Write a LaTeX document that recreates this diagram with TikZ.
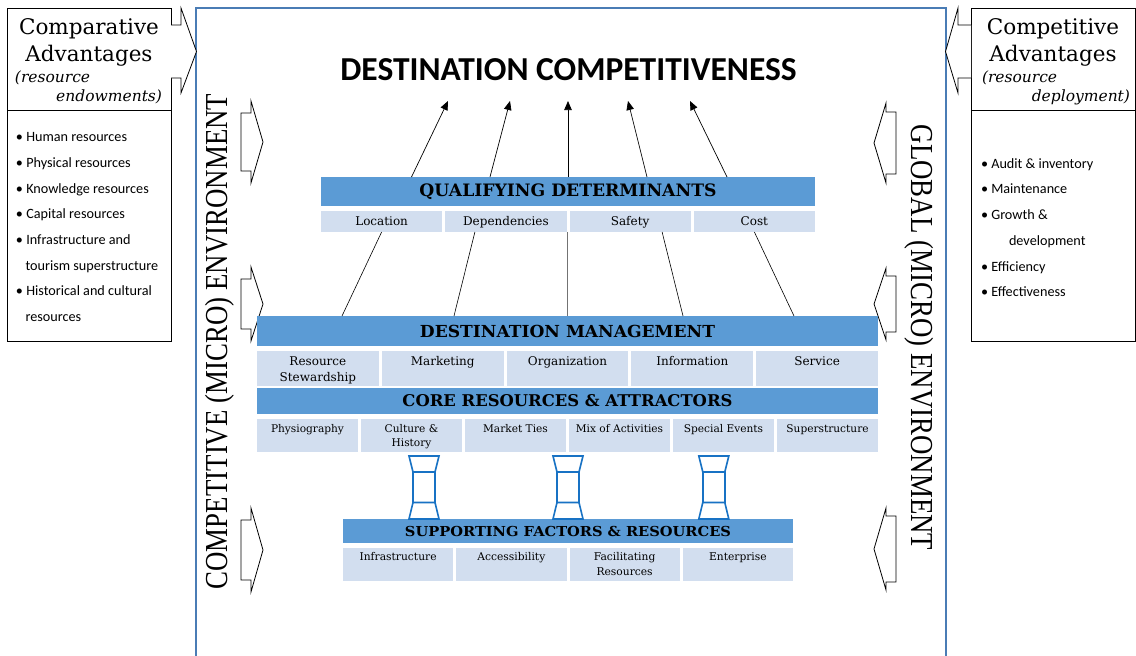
\documentclass[tikz,border=0pt]{standalone}
\usepackage{fontspec}
\setmainfont{DejaVu Serif}
\newfontfamily\carl{Carlito}
\newfontfamily\tnr{Liberation Serif}
\usetikzlibrary{arrows.meta,calc}
\definecolor{barblue}{HTML}{5B9BD5}
\definecolor{cellblue}{HTML}{D2DEEF}
\definecolor{framec}{HTML}{4A7CB5}
\definecolor{pillarc}{HTML}{1872C4}
\newcommand{\fs}[1]{\fontsize{#1}{#1}\selectfont}
\newcommand{\fsl}[2]{\fontsize{#1}{#2}\selectfont}
\newcommand{\cellbase}{14pt}
\newcommand{\cellnode}[6]{\node[cellbox, anchor=north] (#1) at (#2,#3) {\parbox[c][#5pt][t]{#4pt}{\centering\rule{0pt}{\cellbase}#6}};}
\newcommand{\pillar}[1]{%
 \draw[pil] (#1-15,456) -- (#1+15,456) -- (#1+11,472) -- (#1-11,472) -- cycle;
 \draw[pil] (#1-11,472) rectangle (#1+11,502.5);
 \draw[pil] (#1-11,502.5) -- (#1+11,502.5) -- (#1+15,519) -- (#1-15,519) -- cycle;}
\begin{document}
\begin{tikzpicture}[x=1pt,y=-1pt,
  txt/.style={inner sep=0pt, outer sep=0pt},
  bar/.style={fill=barblue, inner sep=0pt, outer sep=0pt, font=\bfseries},
  cellbox/.style={fill=cellblue, inner sep=0pt, outer sep=0pt},
  box/.style={draw=black, line width=0.9pt},
  blk/.style={draw=black, line width=0.8pt, fill=white, line join=miter},
  pil/.style={draw=pillarc, line width=1.6pt, line join=miter},
  conn/.style={line width=0.6pt},
  arr/.style={line width=0.7pt, -{Triangle[length=9pt,width=7.5pt]}},
  bul/.style={inner sep=0pt, outer sep=0pt, anchor=base west, font=\carl\fs{14.2}}]
\useasboundingbox (0,0) rectangle (1136,656);
\fill[white] (0,0) rectangle (1136,656);

% main frame
\draw[framec, line width=1.3pt] (196,660) -- (196,8) -- (946,8) -- (946,660);

% left advantage boxes
\draw[box] (7,8) rectangle (171,110);
\draw[box] (7,110) rectangle (171,341);
\node[txt, anchor=base] (ca1) at (89,34.5) {\fs{21.5}Comparative};
\node[txt, anchor=base] (ca2) at (89,61) {\fs{21.5}Advantages};
\node[txt, anchor=base west] (ca3) at (15,82.5) {\itshape\fs{15.5}(resource};
\node[txt, anchor=base east] (ca4) at (162,101) {\itshape\fs{15.5}endowments)};

% right advantage boxes
\draw[box] (971,8) rectangle (1135,110);
\draw[box] (971,110) rectangle (1135,341);
\node[txt, anchor=base] (cb1) at (1053,34.5) {\fs{21.5}Competitive};
\node[txt, anchor=base] (cb2) at (1053,61) {\fs{21.5}Advantages};
\node[txt, anchor=base west] (cb3) at (982,82.5) {\itshape\fs{15.5}(resource};
\node[txt, anchor=base east] (cb4) at (1130,101) {\itshape\fs{15.5}deployment)};

% bullet lists
\node[bul] (l1) at (16,141.7) {\textbullet\ Human resources};
\node[bul] (l2) at (16,167.4) {\textbullet\ Physical resources};
\node[bul] (l3) at (16,193.1) {\textbullet\ Knowledge resources};
\node[bul] (l4) at (16,218.8) {\textbullet\ Capital resources};
\node[bul] (l5) at (16,244.5) {\textbullet\ Infrastructure and};
\node[bul] (l6) at (25.5,270.2) {tourism superstructure};
\node[bul] (l7) at (16,295.9) {\textbullet\ Historical and cultural};
\node[bul] (l8) at (25.5,321.6) {resources};

\node[bul] (r1) at (981,168.2) {\textbullet\ Audit \& inventory};
\node[bul] (r2) at (981,193.9) {\textbullet\ Maintenance};
\node[bul] (r3) at (981,219.6) {\textbullet\ Growth \&};
\node[bul] (r4) at (1009,245.3) {development};
\node[bul] (r5) at (981,271.0) {\textbullet\ Efficiency};
\node[bul] (r6) at (981,296.7) {\textbullet\ Effectiveness};

% top block arrows
\draw[blk] (171,25) -- (181,25) -- (181,8) -- (196.5,51.5) -- (181,93) -- (181,78) -- (171,78);
\draw[blk] (971,25) -- (958,25) -- (958,8) -- (945.5,51.5) -- (958,93) -- (958,78) -- (971,78);

% inner left block arrows
\draw[blk] (241,113) -- (251,113) -- (251,101) -- (263,142) -- (251,183) -- (251,171) -- (241,171) -- cycle;
\draw[blk] (241,279) -- (251,279) -- (251,267) -- (263,304) -- (251,341) -- (251,329) -- (241,329) -- cycle;
\draw[blk] (241,520) -- (251,520) -- (251,508) -- (263,550) -- (251,592) -- (251,580) -- (241,580) -- cycle;
% inner right block arrows
\draw[blk] (896,112) -- (886,112) -- (886,103) -- (874,143) -- (886,183) -- (886,174) -- (896,174) -- cycle;
\draw[blk] (896,276) -- (886,276) -- (886,268) -- (874,304) -- (886,340) -- (886,332) -- (896,332) -- cycle;
\draw[blk] (896,516) -- (886,516) -- (886,508) -- (874,549) -- (886,590) -- (886,582) -- (896,582) -- cycle;

% vertical environment texts
\node[txt, rotate=90] (compenv) at (219.8,341.5) {\scalebox{0.84}[1]{\tnr\fs{32}COMPETITIVE (MICRO) ENVIRONMENT}};
\node[txt, rotate=-90] (globenv) at (919.2,337.5) {\scalebox{0.84}[1]{\tnr\fs{32}GLOBAL (MICRO) ENVIRONMENT}};

% title
\node[txt] (title) at (568.5,70) {\carl\bfseries\fs{33.5}DESTINATION COMPETITIVENESS};

% qualifying determinants
\node[bar, minimum width=494pt, minimum height=29pt] (qd) at (568,191.5) {\resizebox{297pt}{12.7pt}{QUALIFYING DETERMINANTS}};
\renewcommand{\cellbase}{14pt}
\begin{scope}[font=\fs{12}]
\cellnode{qc1}{381.625}{211}{121.25}{21}{Location}
\cellnode{qc2}{505.875}{211}{121.25}{21}{Dependencies}
\cellnode{qc3}{630.125}{211}{121.25}{21}{Safety}
\cellnode{qc4}{754.375}{211}{121.25}{21}{Cost}
\end{scope}

% destination management
\node[bar, minimum width=621pt, minimum height=30pt] (dm) at (567.5,331) {\resizebox{295pt}{12.3pt}{DESTINATION MANAGEMENT}};
\renewcommand{\cellbase}{14pt}
\begin{scope}[font=\fsl{12}{16}]
\cellnode{dc1}{317.9}{351}{121.8}{35}{Resource\\Stewardship}
\cellnode{dc2}{442.7}{351}{121.8}{35}{Marketing}
\cellnode{dc3}{567.5}{351}{121.8}{35}{Organization}
\cellnode{dc4}{692.3}{351}{121.8}{35}{Information}
\cellnode{dc5}{817.1}{351}{121.8}{35}{Service}
\end{scope}

% core resources
\node[bar, minimum width=621pt, minimum height=26pt] (cr) at (567.5,401) {\resizebox{330pt}{12pt}{CORE RESOURCES \& ATTRACTORS}};
\renewcommand{\cellbase}{13.7pt}
\begin{scope}[font=\fsl{10.6}{14}]
\cellnode{cc1}{307.5}{419}{101}{33}{Physiography}
\cellnode{cc2}{411.5}{419}{101}{33}{Culture \&\\History}
\cellnode{cc3}{515.5}{419}{101}{33}{Market Ties}
\cellnode{cc4}{619.5}{419}{101}{33}{Mix of Activities}
\cellnode{cc5}{723.5}{419}{101}{33}{Special Events}
\cellnode{cc6}{827.5}{419}{101}{33}{Superstructure}
\end{scope}

% supporting factors
\node[bar, minimum width=450pt, minimum height=24pt] (sf) at (568,531) {\resizebox{326pt}{10.2pt}{SUPPORTING FACTORS \& RESOURCES}};
\renewcommand{\cellbase}{12.7pt}
\begin{scope}[font=\fsl{10.7}{14.3}]
\cellnode{sc1}{398.125}{548}{110.25}{33}{Infrastructure}
\cellnode{sc2}{511.375}{548}{110.25}{33}{Accessibility}
\cellnode{sc3}{624.625}{548}{110.25}{33}{Facilitating\\Resources}
\cellnode{sc4}{737.875}{548}{110.25}{33}{Enterprise}
\end{scope}

% pillars
\pillar{424}
\pillar{568}
\pillar{713.8}

% arrows to destination competitiveness
\coordinate (t1) at (448,101);
\coordinate (t2) at (510,101);
\coordinate (t3) at (568,101);
\coordinate (t4) at (628,101);
\coordinate (t5) at (690,101);
\draw[arr] ([xshift=90.5pt]qd.north west) -- (t1);
\draw[arr] ([xshift=169pt]qd.north west) -- (t2);
\draw[arr] (qd.north) -- (t3);
\draw[arr] ([xshift=326pt]qd.north west) -- (t4);
\draw[arr] ([xshift=406pt]qd.north west) -- (t5);

% connectors from qualifying determinants to destination management
\draw[conn] (qc1.south) -- ([xshift=85pt]dm.north west);
\draw[conn] ([xshift=-31pt]qc2.south) -- ([xshift=197pt]dm.north west);
\draw[line width=1.3pt, black!55] (dm.north |- qc2.south) -- (dm.north);
\draw[conn] ([xshift=32pt]qc3.south) -- ([xshift=426pt]dm.north west);
\draw[conn] (qc4.south) -- ([xshift=537pt]dm.north west);
\end{tikzpicture}
\end{document}
